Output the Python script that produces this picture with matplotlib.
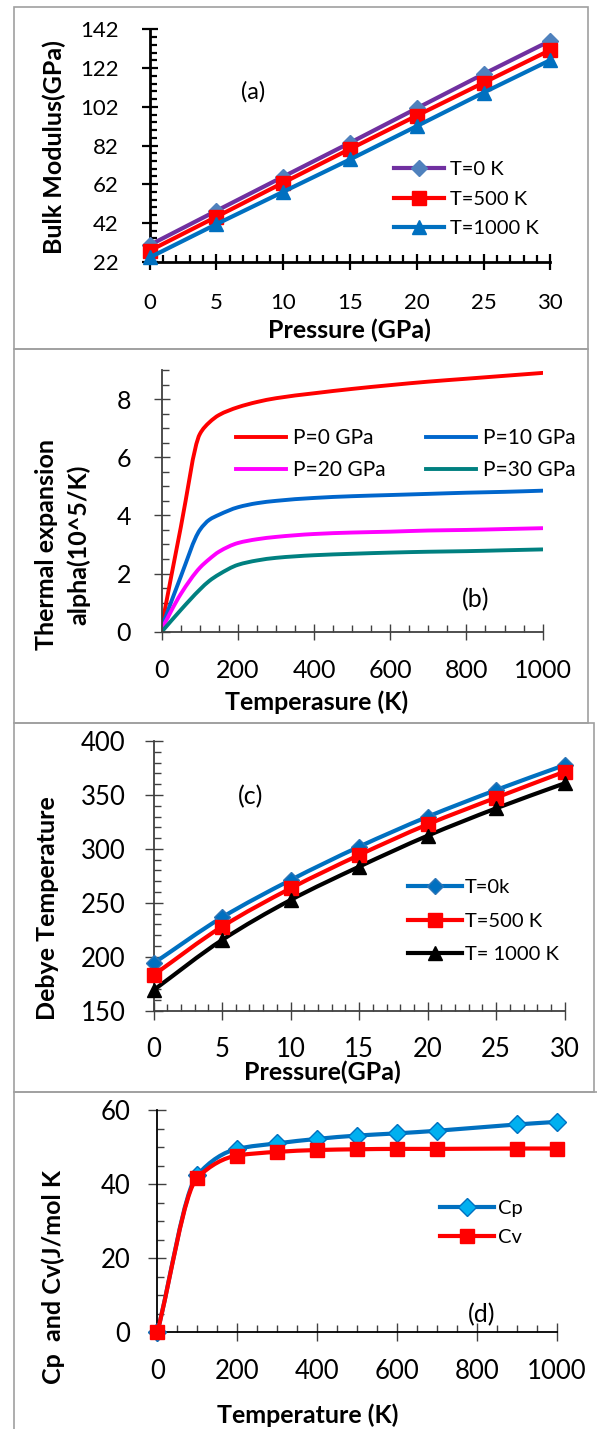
import matplotlib
matplotlib.use("Agg")
import matplotlib.pyplot as plt
from matplotlib.patches import Rectangle, PathPatch
from matplotlib.path import Path
from matplotlib.lines import Line2D
from matplotlib.ticker import MultipleLocator

plt.rcParams['font.family'] = ['Lato', 'DejaVu Sans']

# ---------------- data ----------------
# (a) Bulk modulus vs pressure
pa_pressure = [0, 5, 10, 15, 20, 25, 30]
pa_T0 = [30.6, 48.3, 65.9, 83.4, 101.2, 118.9, 136.1]
pa_T500 = [27.7, 45.2, 62.8, 80.2, 97.4, 114.4, 131.3]
pa_T1000 = [24.2, 41.4, 58.1, 74.8, 92.0, 109.3, 126.1]

# (b) Thermal expansion vs temperature
pb_temp = [0, 50, 100, 125, 150, 200, 250, 300, 400, 500, 600, 700, 800, 900, 1000]
pb_P0 = [0.2, 3.6, 6.8, 7.2, 7.45, 7.72, 7.9, 8.03, 8.2, 8.35, 8.48, 8.6, 8.7, 8.8, 8.9]
pb_P10 = [0.15, 1.9, 3.5, 3.85, 4.02, 4.28, 4.42, 4.5, 4.6, 4.66, 4.7, 4.74, 4.78, 4.81, 4.85]
pb_P20 = [0.1, 1.3, 2.2, 2.5, 2.75, 3.05, 3.18, 3.26, 3.36, 3.41, 3.44, 3.48, 3.5, 3.53, 3.56]
pb_P30 = [0.0, 0.75, 1.45, 1.75, 1.97, 2.3, 2.45, 2.54, 2.63, 2.68, 2.72, 2.75, 2.77, 2.8, 2.83]

# (c) Debye temperature vs pressure
pc_pressure = [0, 5, 10, 15, 20, 25, 30]
pc_T0 = [193.9, 236.5, 271.1, 302.0, 329.8, 354.6, 377.7]
pc_T500 = [183.0, 227.9, 263.4, 294.3, 322.7, 347.5, 371.6]
pc_T1000 = [169.0, 215.5, 252.6, 283.5, 312.2, 337.6, 360.8]

# (d) Heat capacities vs temperature
pd_temp = [0, 100, 200, 300, 400, 500, 600, 700, 900, 1000]
pd_Cp = [0, 42.4, 49.5, 51.0, 52.2, 53.1, 53.7, 54.4, 56.1, 56.8]
pd_Cv = [0, 41.7, 47.7, 48.7, 49.2, 49.4, 49.5, 49.5, 49.6, 49.6]

# ---------------- layout helpers ----------------
W, H = 597, 1429
fig = plt.figure(figsize=(W / 100, H / 100), dpi=100)


def add_axes_px(l, r, t, b):
    ax = fig.add_axes([l / W, 1 - b / H, (r - l) / W, (b - t) / H])
    ax._px = (l, r, t, b)
    return ax


def afrac(ax, x, y):
    l, r, t, b = ax._px
    return ((x - l) / (r - l), (b - y) / (b - t))


def border(l, r, t, b):
    fig.patches.append(Rectangle((l / W, 1 - b / H), (r - l) / W, (b - t) / H,
                                 transform=fig.transFigure, fill=False,
                                 edgecolor='#a0a0a0', linewidth=1.2))


def style_axes(ax, spine_color, spine_lw, tick_color, tick_w, major_len, minor_len,
               xpad, ypad, tick_fs):
    for s in ('top', 'right'):
        ax.spines[s].set_visible(False)
    for s in ('left', 'bottom'):
        ax.spines[s].set_color(spine_color)
        ax.spines[s].set_linewidth(spine_lw)
    ax.tick_params(which='major', direction='inout', length=major_len, width=tick_w,
                   color=tick_color, labelsize=tick_fs)
    ax.tick_params(which='minor', direction='in', length=minor_len, width=tick_w,
                   color=tick_color)
    ax.tick_params(axis='x', which='major', pad=xpad)
    ax.tick_params(axis='y', which='major', pad=ypad)
    ax.patch.set_alpha(0)


def labels(ax, xl, xpos, yl, ypos, fs, linespacing=1.2):
    ax.set_xlabel(xl, fontsize=fs, fontweight='bold', va='center')
    ax.xaxis.set_label_coords(*afrac(ax, *xpos))
    ax.set_ylabel(yl, fontsize=fs, fontweight='bold', va='center',
                  linespacing=linespacing)
    ax.yaxis.set_label_coords(*afrac(ax, *ypos))


def legend_px(ax, handles, labs, x, y, fs, **kw):
    return ax.legend(handles, labs, loc='upper left',
                     bbox_to_anchor=(x / W, 1 - y / H), bbox_transform=fig.transFigure,
                     frameon=False, fontsize=fs, borderpad=0, borderaxespad=0,
                     numpoints=1, **kw)


def smooth_series(ax, x, y, color, lw, z=3, **mk):
    """Draw a smoothed (Excel-style) line through the data points as a Bezier
    path in data coordinates, plus optional markers; return a legend handle."""
    n = len(x)
    h = [x[k + 1] - x[k] for k in range(n - 1)]
    dl = [(y[k + 1] - y[k]) / h[k] for k in range(n - 1)]
    d = [dl[0]] + [0.0] * (n - 2) + [dl[-1]]
    for k in range(1, n - 1):
        if dl[k - 1] * dl[k] <= 0:
            d[k] = 0.0
        else:
            w1 = 2 * h[k] + h[k - 1]
            w2 = h[k] + 2 * h[k - 1]
            d[k] = (w1 + w2) / (w1 / dl[k - 1] + w2 / dl[k])
    verts = [(x[0], y[0])]
    codes = [Path.MOVETO]
    for k in range(n - 1):
        verts += [(x[k] + h[k] / 3, y[k] + d[k] * h[k] / 3),
                  (x[k + 1] - h[k] / 3, y[k + 1] - d[k + 1] * h[k] / 3),
                  (x[k + 1], y[k + 1])]
        codes += [Path.CURVE4] * 3
    ax.add_patch(PathPatch(Path(verts, codes), fill=False, edgecolor=color, lw=lw,
                           capstyle='round', joinstyle='round', zorder=z - 0.5))
    if mk:
        ax.plot(x, y, ls='none', clip_on=False, zorder=z, **mk)
    return Line2D([], [], color=color, lw=lw, **mk)


# panel borders
border(14, 588, 6.7, 349)
border(14, 588, 349, 723)
border(14, 594, 723, 1092)
border(14, 610, 1092, 1450)

# ---------------- (a) ----------------
axA = add_axes_px(149.7, 550.3, 29.3, 261.7)
lA0, = axA.plot(pa_pressure, pa_T0, color='#7030A0', lw=3.0, marker='D', ms=8,
                mfc='#4F81BD', mec='#4F81BD', clip_on=False, zorder=3)
lA1, = axA.plot(pa_pressure, pa_T500, color='#FF0000', lw=3.0, marker='s', ms=9.5,
                mfc='#FF0000', mec='#FF0000', clip_on=False, zorder=3)
lA2, = axA.plot(pa_pressure, pa_T1000, color='#0070C0', lw=3.0, marker='^', ms=10,
                mfc='#0070C0', mec='#0070C0', clip_on=False, zorder=3)
axA.set_xlim(0, 30)
axA.set_ylim(22, 142)
axA.xaxis.set_major_locator(MultipleLocator(5))
axA.xaxis.set_minor_locator(MultipleLocator(1))
axA.yaxis.set_major_locator(MultipleLocator(20, offset=2))
axA.yaxis.set_minor_locator(MultipleLocator(4, offset=2))
style_axes(axA, 'black', 2.0, 'black', 1.6, 11.5, 4.8, 16.5, 16.5, 16)
labels(axA, 'Pressure (GPa)', (349.5, 330), 'Bulk Modulus(GPa)', (54, 147.5), 18)
axA.text(*afrac(axA, 253, 92), '(a)', transform=axA.transAxes, fontsize=17,
         ha='center', va='center')
legend_px(axA, [lA0, lA1, lA2], ['T=0 K', 'T=500 K', 'T=1000 K'], 394, 161, 14.5,
          handlelength=2.5, handletextpad=0.3, labelspacing=0.62)

# ---------------- (b) ----------------
axB = add_axes_px(161.8, 542.6, 370, 631.7)
lB0 = smooth_series(axB, pb_temp, pb_P0, '#FF0000', 2.8)
lB1 = smooth_series(axB, pb_temp, pb_P10, '#0066CC', 2.8)
lB2 = smooth_series(axB, pb_temp, pb_P20, '#FF00FF', 2.8)
lB3 = smooth_series(axB, pb_temp, pb_P30, '#008080', 2.8)
axB.set_xlim(0, 1000)
axB.set_ylim(0, 9)
axB.xaxis.set_major_locator(MultipleLocator(200))
axB.xaxis.set_minor_locator(MultipleLocator(50))
axB.yaxis.set_major_locator(MultipleLocator(2))
axB.yaxis.set_minor_locator(MultipleLocator(0.5))
style_axes(axB, '#404040', 1.3, '#404040', 1.0, 12, 5, 14, 16, 18)
labels(axB, 'Temperasure (K)', (317, 702), 'Thermal expansion\nalpha(10^5/K)',
       (63, 545), 18, linespacing=1.45)
axB.text(*afrac(axB, 476, 600), '(b)', transform=axB.transAxes, fontsize=18,
         ha='center', va='center')
legend_px(axB, [lB0, lB2, lB1, lB3], ['P=0 GPa', 'P=20 GPa', 'P=10 GPa', 'P=30 GPa'],
          236, 428, 15, ncol=2, handlelength=2.4, handletextpad=0.35,
          labelspacing=0.6, columnspacing=1.9)

# ---------------- (c) ----------------
axC = add_axes_px(153.5, 564.7, 741, 1010.7)
lC0 = smooth_series(axC, pc_pressure, pc_T0, '#0070C0', 3.0, marker='D', ms=8,
                    mfc='#0070C0', mec='#2E75B6')
lC1 = smooth_series(axC, pc_pressure, pc_T500, '#FF0000', 3.0, marker='s', ms=9.5,
                    mfc='#FF0000', mec='#FF0000')
lC2 = smooth_series(axC, pc_pressure, pc_T1000, 'black', 3.0, marker='^', ms=10,
                    mfc='black', mec='black')
axC.set_xlim(0, 30)
axC.set_ylim(150, 400)
axC.xaxis.set_major_locator(MultipleLocator(5))
axC.xaxis.set_minor_locator(MultipleLocator(1))
axC.yaxis.set_major_locator(MultipleLocator(50))
axC.yaxis.set_minor_locator(MultipleLocator(10))
style_axes(axC, '#404040', 1.3, '#404040', 1.0, 12.5, 5, 12.5, 14, 18.5)
labels(axC, 'Pressure(GPa)', (322, 1072), 'Debye Temperature', (47.6, 908), 18)
axC.text(*afrac(axC, 251, 797), '(c)', transform=axC.transAxes, fontsize=18,
         ha='center', va='center')
legend_px(axC, [lC0, lC1, lC2], ['T=0k', 'T=500 K', 'T= 1000 K'], 407.5, 879, 14.5,
          handlelength=2.7, handletextpad=0.15, labelspacing=0.82)

# ---------------- (d) ----------------
axD = add_axes_px(157.3, 557, 1110, 1332.3)
lD0 = smooth_series(axD, pd_temp, pd_Cp, '#0070C0', 3.0, marker='D', ms=9.5,
                    mfc='#00B0F0', mec='#0070C0', mew=1.0)
lD1 = smooth_series(axD, pd_temp, pd_Cv, '#FF0000', 3.0, z=4, marker='s', ms=10,
                    mfc='#FF0000', mec='#FF0000')
axD.set_xlim(0, 1000)
axD.set_ylim(0, 60)
axD.xaxis.set_major_locator(MultipleLocator(200))
axD.xaxis.set_minor_locator(MultipleLocator(50))
axD.yaxis.set_major_locator(MultipleLocator(20))
axD.yaxis.set_minor_locator(MultipleLocator(5))
style_axes(axD, 'black', 1.3, '#404040', 1.0, 13, 5, 13, 13, 18.5)
labels(axD, 'Temperature (K)', (308, 1415), 'Cp  and Cv(J/mol K', (53, 1277), 18)
axD.text(*afrac(axD, 482, 1315), '(d)', transform=axD.transAxes, fontsize=18,
         ha='center', va='center')
legend_px(axD, [lD0, lD1], ['Cp', 'Cv'], 440, 1200, 14.5,
          handlelength=2.7, handletextpad=0.2, labelspacing=0.6)

fig.savefig('out.png', dpi=100)
